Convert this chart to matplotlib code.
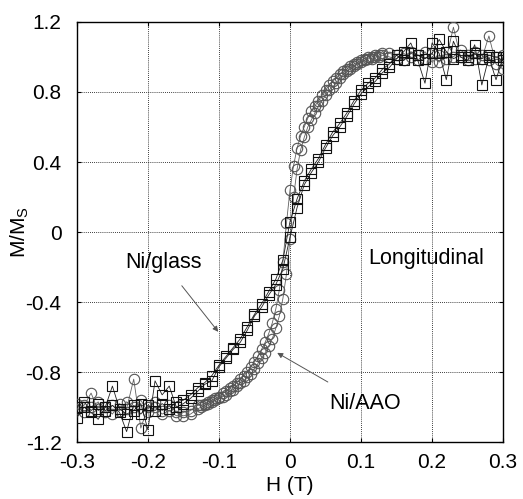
import matplotlib
matplotlib.use("Agg")
import matplotlib.pyplot as plt

plt.rcParams['font.family'] = ['Liberation Sans', 'DejaVu Sans']

# ---------------- data ----------------
# Ni/glass (squares): field grid and two loop branches
sq_h = [-0.30, -0.29, -0.28, -0.27, -0.26, -0.25, -0.24, -0.23, -0.22, -0.21,
        -0.20, -0.19, -0.18, -0.17, -0.16, -0.15, -0.14, -0.13, -0.12, -0.11,
        -0.10, -0.09, -0.08, -0.07, -0.06, -0.05, -0.04, -0.03, -0.02, -0.01,
        0.00, 0.01, 0.02, 0.03, 0.04, 0.05, 0.06, 0.07, 0.08, 0.09,
        0.10, 0.11, 0.12, 0.13, 0.14, 0.15, 0.16, 0.17, 0.18, 0.19,
        0.20, 0.21, 0.22, 0.23, 0.24, 0.25, 0.26, 0.27, 0.28, 0.29, 0.30]
sq_up = [-1.06, -1.00, -1.03, -1.07, -1.00, -0.88, -1.01, -1.04, -1.02, -0.98,
         -1.13, -0.85, -0.93, -0.88, -1.00, -0.98, -0.95, -0.91, -0.87, -0.85,
         -0.77, -0.72, -0.67, -0.63, -0.56, -0.48, -0.43, -0.36, -0.30, -0.21,
         -0.03, 0.14, 0.27, 0.34, 0.40, 0.48, 0.55, 0.60, 0.66, 0.73,
         0.79, 0.83, 0.86, 0.91, 0.94, 0.99, 1.03, 1.08, 0.98, 0.85,
         1.08, 1.02, 0.87, 1.09, 1.00, 0.98, 1.07, 0.84, 1.00, 0.87, 1.00]
sq_down = [-1.00, -0.97, -1.02, -0.98, -1.02, -0.99, -1.03, -1.14, -0.99, -1.04,
           -0.99, -1.02, -0.98, -1.01, -0.97, -0.96, -0.93, -0.89, -0.86, -0.82,
           -0.76, -0.71, -0.66, -0.61, -0.54, -0.47, -0.41, -0.34, -0.27, -0.16,
           0.06, 0.19, 0.29, 0.36, 0.42, 0.50, 0.57, 0.62, 0.68, 0.75,
           0.81, 0.85, 0.88, 0.93, 0.96, 1.01, 0.98, 1.02, 1.01, 0.99,
           1.02, 1.10, 1.03, 0.99, 1.01, 1.00, 1.02, 0.99, 1.01, 1.00, 0.98]

# Ni/AAO (circles): field grid and two loop branches
ci_h = [-0.30, -0.29, -0.28, -0.27, -0.26, -0.25, -0.24, -0.23, -0.22, -0.21,
        -0.20, -0.19, -0.18, -0.17, -0.16, -0.15, -0.14,
        -0.130, -0.125, -0.120, -0.115, -0.110, -0.105, -0.100, -0.095, -0.090,
        -0.085, -0.080, -0.075, -0.070, -0.065, -0.060, -0.055, -0.050, -0.045,
        -0.040, -0.035, -0.030, -0.025, -0.020, -0.015, -0.010, -0.005, 0.000,
        0.005, 0.010, 0.015, 0.020, 0.025, 0.030, 0.035, 0.040, 0.045,
        0.050, 0.055, 0.060, 0.065, 0.070, 0.075, 0.080, 0.085, 0.090,
        0.095, 0.100, 0.105, 0.110, 0.115, 0.120, 0.125, 0.130,
        0.14, 0.15, 0.16, 0.17, 0.18, 0.19, 0.20, 0.21, 0.22, 0.23,
        0.24, 0.25, 0.26, 0.27, 0.28, 0.29, 0.30]
ci_up = [-1.01, -0.99, -0.92, -1.02, -1.00, -1.04, -0.98, -1.01, -0.84, -1.12,
         -1.00, -0.97, -1.02, -0.99, -1.03, -1.05, -1.04,
         -1.01, -1.00, -0.99, -0.98, -0.97, -0.96, -0.95, -0.94, -0.93,
         -0.91, -0.90, -0.88, -0.86, -0.85, -0.83, -0.81, -0.78, -0.75,
         -0.72, -0.69, -0.65, -0.61, -0.55, -0.48, -0.38, -0.24, -0.04,
         0.20, 0.36, 0.47, 0.54, 0.60, 0.64, 0.68, 0.72, 0.75,
         0.78, 0.81, 0.83, 0.85, 0.88, 0.90, 0.92, 0.93, 0.95,
         0.96, 0.97, 0.98, 0.99, 0.99, 1.00, 1.00, 1.01,
         1.00, 0.99, 1.02, 1.00, 0.98, 1.03, 0.97, 1.01, 0.99, 1.17,
         1.00, 0.98, 1.03, 0.99, 1.12, 0.96, 0.93]
ci_down = [-0.98, -1.03, -1.00, -0.97, -1.03, -0.99, -1.02, -0.97, -1.00, -0.96,
           -1.03, -1.00, -1.04, -1.02, -1.05, -1.03, -1.02,
           -0.99, -0.99, -0.98, -0.97, -0.96, -0.95, -0.94, -0.92, -0.91,
           -0.89, -0.88, -0.86, -0.84, -0.82, -0.80, -0.77, -0.74, -0.71,
           -0.67, -0.63, -0.58, -0.52, -0.44, -0.33, -0.17, 0.05, 0.24,
           0.38, 0.48, 0.55, 0.60, 0.65, 0.69, 0.72, 0.75, 0.78,
           0.81, 0.84, 0.86, 0.88, 0.90, 0.92, 0.93, 0.95, 0.96,
           0.97, 0.98, 0.99, 1.00, 1.00, 1.01, 1.01, 1.02,
           1.02, 1.01, 0.98, 1.03, 1.01, 0.99, 1.02, 0.97, 1.03, 1.00,
           1.04, 1.01, 0.99, 1.01, 0.98, 1.00, 1.01]

x_ticks = [-0.3, -0.2, -0.1, 0, 0.1, 0.2, 0.3]
x_labels = ['-0.3', '-0.2', '-0.1', '0', '0.1', '0.2', '0.3']
y_ticks = [-1.2, -0.8, -0.4, 0, 0.4, 0.8, 1.2]
y_labels = ['-1.2', '-0.8', '-0.4', '0', '0.4', '0.8', '1.2']

# ---------------- figure ----------------
fig = plt.figure(figsize=(5.23, 4.99), dpi=100)
ax = fig.add_axes([0.147, 0.114, 0.815, 0.842])

# loops: descending branch then ascending branch
ci_loop_h = ci_h[::-1] + ci_h
ci_loop_m = ci_down[::-1] + ci_up
sq_loop_h = sq_h[::-1] + sq_h
sq_loop_m = sq_down[::-1] + sq_up

ax.plot(ci_loop_h, ci_loop_m, color='#606060', lw=0.6, marker='o', ms=7.5,
        mfc='none', mec='#555555', mew=0.8, zorder=3)
ax.plot(sq_loop_h, sq_loop_m, color='#202020', lw=0.6, marker='s', ms=7,
        mfc='none', mec='#111111', mew=0.8, zorder=4)

ax.set_xlim(-0.3, 0.3)
ax.set_ylim(-1.2, 1.2)
ax.set_xticks(x_ticks)
ax.set_xticklabels(x_labels)
ax.set_yticks(y_ticks)
ax.set_yticklabels(y_labels)
ax.tick_params(direction='in', length=3, width=0.8, labelsize=15,
               top=True, right=True, pad=8)
ax.tick_params(axis='y', pad=11)
ax.grid(True, color='black', linestyle=(0, (1, 1.5)), linewidth=0.6)
for s in ax.spines.values():
    s.set_linewidth(1.0)

ax.set_xlabel('H (T)', fontsize=15, labelpad=3)
ax.set_ylabel(r'M/M$_{\mathregular{S}}$', fontsize=15, labelpad=-4)

ax.text(0.192, -0.15, 'Longitudinal', fontsize=15.5, ha='center', va='center')
ax.annotate('Ni/glass', xy=(-0.101, -0.57), xytext=(-0.178, -0.175),
            fontsize=15.5, ha='center', va='center',
            arrowprops=dict(arrowstyle='-|>', color='#555555', lw=0.7,
                            shrinkA=9, shrinkB=0, mutation_scale=8))
ax.annotate('Ni/AAO', xy=(-0.018, -0.69), xytext=(0.106, -0.98),
            fontsize=15.5, ha='center', va='center',
            arrowprops=dict(arrowstyle='-|>', color='#555555', lw=0.7,
                            shrinkA=12, shrinkB=0, mutation_scale=8))

fig.savefig('out.png', dpi=100)
